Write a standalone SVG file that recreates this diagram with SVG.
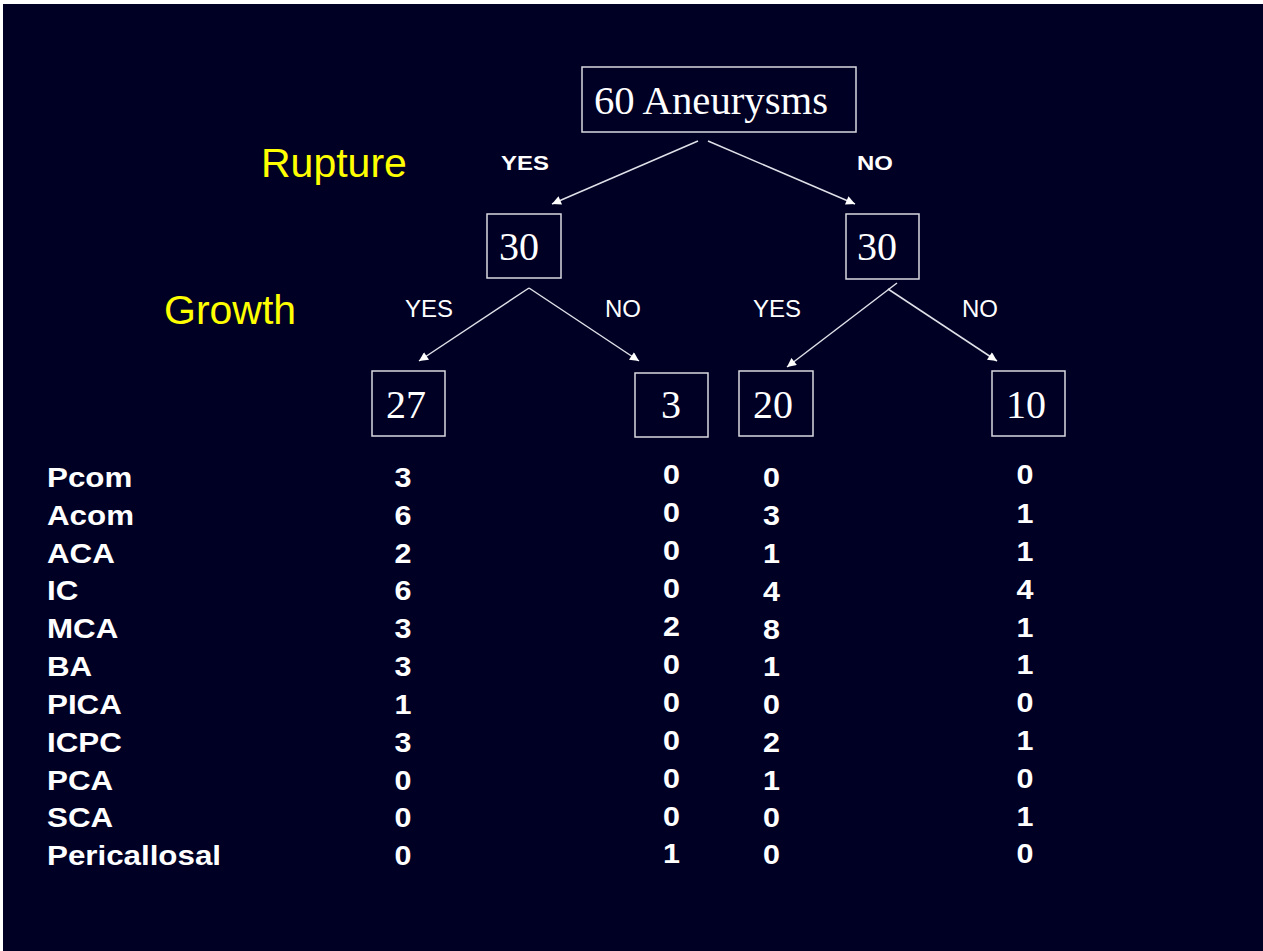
<svg xmlns="http://www.w3.org/2000/svg" width="1263" height="951" viewBox="0 0 1263 951">
<defs>
<style>
.box{fill:none;stroke:#d8d8e0;stroke-width:1.5}
.num{font-family:"Liberation Serif","Times New Roman",serif;font-size:40px;fill:#ffffff}
.cat{font-family:"Liberation Sans",Arial,sans-serif;font-size:41px;fill:#ffff00}
.yn{font-family:"Liberation Sans",Arial,sans-serif;font-size:24px;fill:#ffffff}
.ynb{font-family:"Liberation Sans",Arial,sans-serif;font-size:21px;font-weight:bold;fill:#ffffff}
.tb{font-family:"Liberation Sans",Arial,sans-serif;font-size:27px;font-weight:bold;fill:#ffffff}
.c{text-anchor:middle}
.conn line{stroke:#e0e0e8;stroke-width:1.5;marker-end:url(#ah)}
</style>
<marker id="ah" viewBox="0 0 10 10" refX="10" refY="5" markerWidth="10" markerHeight="9" markerUnits="userSpaceOnUse" orient="auto">
<path d="M0,0 L10,5 L0,10 Z" fill="#ffffff"/>
</marker>
</defs>
<rect x="3" y="4" width="1260" height="947" fill="#000025"/>

<text class="cat" x="261" y="177">Rupture</text>
<text class="cat" x="164" y="324">Growth</text>

<g transform="translate(501,170) scale(1.14,1)"><text class="ynb" x="0" y="0">YES</text></g>
<g transform="translate(857,170) scale(1.14,1)"><text class="ynb" x="0" y="0">NO</text></g>

<text class="yn" x="405" y="317">YES</text>
<text class="yn" x="605" y="317">NO</text>
<text class="yn" x="753" y="317">YES</text>
<text class="yn" x="962" y="317">NO</text>

<g id="n-root"><rect class="box" x="582" y="67" width="274" height="65"/><text class="num" x="594" y="114" textLength="234" lengthAdjust="spacingAndGlyphs">60 Aneurysms</text></g>
<g id="n-rupt-yes"><rect class="box" x="487" y="214" width="74" height="64"/><text class="num" x="499" y="260">30</text></g>
<g id="n-rupt-no"><rect class="box" x="846" y="214" width="73" height="65"/><text class="num" x="857" y="260">30</text></g>
<g id="n-27"><rect class="box" x="372" y="371" width="73" height="65"/><text class="num" x="386" y="418">27</text></g>
<g id="n-3"><rect class="box" x="635" y="373" width="73" height="64"/><text class="num" x="661" y="418">3</text></g>
<g id="n-20"><rect class="box" x="739" y="371" width="74" height="65"/><text class="num" x="753" y="418">20</text></g>
<g id="n-10"><rect class="box" x="992" y="371" width="73" height="65"/><text class="num" x="1006" y="418">10</text></g>

<g id="connectors" class="conn">
<line x1="698" y1="141" x2="552" y2="204"/>
<line x1="708" y1="141" x2="855" y2="204"/>
<line x1="529" y1="288" x2="419" y2="361"/>
<line x1="529" y1="288" x2="639" y2="361"/>
<line x1="897" y1="283" x2="787" y2="367"/>
<line x1="888" y1="289" x2="997" y2="361"/>
</g>

<g id="labels" transform="translate(47,0) scale(1.16,1)">
<text class="tb" x="0" y="487">Pcom</text>
<text class="tb" x="0" y="525">Acom</text>
<text class="tb" x="0" y="563">ACA</text>
<text class="tb" x="0" y="600">IC</text>
<text class="tb" x="0" y="638">MCA</text>
<text class="tb" x="0" y="676">BA</text>
<text class="tb" x="0" y="714">PICA</text>
<text class="tb" x="0" y="752">ICPC</text>
<text class="tb" x="0" y="790">PCA</text>
<text class="tb" x="0" y="827">SCA</text>
<text class="tb" x="0" y="865">Pericallosal</text>
</g>

<g id="col-27" transform="translate(403,0) scale(1.13,1)">
<text class="tb c" x="0" y="487">3</text>
<text class="tb c" x="0" y="525">6</text>
<text class="tb c" x="0" y="563">2</text>
<text class="tb c" x="0" y="600">6</text>
<text class="tb c" x="0" y="638">3</text>
<text class="tb c" x="0" y="676">3</text>
<text class="tb c" x="0" y="714">1</text>
<text class="tb c" x="0" y="752">3</text>
<text class="tb c" x="0" y="790">0</text>
<text class="tb c" x="0" y="827">0</text>
<text class="tb c" x="0" y="865">0</text>
</g>

<g id="col-3" transform="translate(671.5,0) scale(1.13,1)">
<text class="tb c" x="0" y="484">0</text>
<text class="tb c" x="0" y="522">0</text>
<text class="tb c" x="0" y="560">0</text>
<text class="tb c" x="0" y="598">0</text>
<text class="tb c" x="0" y="636">2</text>
<text class="tb c" x="0" y="674">0</text>
<text class="tb c" x="0" y="712">0</text>
<text class="tb c" x="0" y="750">0</text>
<text class="tb c" x="0" y="788">0</text>
<text class="tb c" x="0" y="826">0</text>
<text class="tb c" x="0" y="863">1</text>
</g>

<g id="col-20" transform="translate(771.5,0) scale(1.13,1)">
<text class="tb c" x="0" y="487">0</text>
<text class="tb c" x="0" y="525">3</text>
<text class="tb c" x="0" y="563">1</text>
<text class="tb c" x="0" y="601">4</text>
<text class="tb c" x="0" y="639">8</text>
<text class="tb c" x="0" y="676">1</text>
<text class="tb c" x="0" y="714">0</text>
<text class="tb c" x="0" y="752">2</text>
<text class="tb c" x="0" y="790">1</text>
<text class="tb c" x="0" y="827">0</text>
<text class="tb c" x="0" y="864">0</text>
</g>

<g id="col-10" transform="translate(1025,0) scale(1.13,1)">
<text class="tb c" x="0" y="484">0</text>
<text class="tb c" x="0" y="523">1</text>
<text class="tb c" x="0" y="561">1</text>
<text class="tb c" x="0" y="599">4</text>
<text class="tb c" x="0" y="637">1</text>
<text class="tb c" x="0" y="674">1</text>
<text class="tb c" x="0" y="712">0</text>
<text class="tb c" x="0" y="750">1</text>
<text class="tb c" x="0" y="788">0</text>
<text class="tb c" x="0" y="826">1</text>
<text class="tb c" x="0" y="863">0</text>
</g>
</svg>
